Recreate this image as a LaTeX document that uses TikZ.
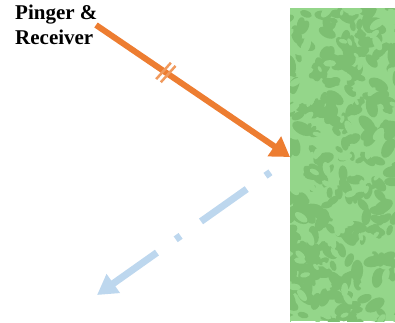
\documentclass[tikz,border=0pt]{standalone}
\usepackage{fontspec}
\setmainfont{Liberation Serif}
\usetikzlibrary{arrows.meta,calc}

\definecolor{pingorange}{HTML}{ED7D31}
\definecolor{tickorange}{HTML}{F09A5E}
\definecolor{echoblue}{HTML}{BDD7EE}
\definecolor{walllight}{HTML}{94D68A}
\definecolor{walldark}{HTML}{7DBF72}

\tikzset{
  ping/.style={pingorange, line width=6pt, -{Triangle[length=19pt,width=23pt]}},
  echo/.style={echoblue, line width=7pt, dash pattern=on 6pt off 23pt on 56pt off 25pt,
    -{Triangle[length=20pt,width=22pt]}},
  tickmark/.style={tickorange, line width=2.5pt},
  blob/.style={walldark}
}

\begin{document}
\begin{tikzpicture}[x=1pt,y=-1pt]
\useasboundingbox (0,0) rectangle (395,322);

% Wall
\begin{scope}
  \clip (290,8) rectangle (395,321);
  \fill[walllight] (290,8) rectangle (395,321);
  \pgfmathsetseed{7}
  \foreach \i in {1,...,300}{
    \pgfmathsetmacro\bx{285+115*rnd}
    \pgfmathsetmacro\by{3+323*rnd}
    \pgfmathsetmacro\ba{180*rnd}
    \pgfmathsetmacro\br{4+7*rnd}
    \fill[blob, rotate around={\ba:(\bx,\by)}] (\bx,\by) ellipse ({\br} and {0.55*\br});
  }
  \pgfmathsetseed{19}
  \foreach \i in {1,...,120}{
    \pgfmathsetmacro\bx{285+115*rnd}
    \pgfmathsetmacro\by{3+323*rnd}
    \pgfmathsetmacro\ba{180*rnd}
    \pgfmathsetmacro\br{3+5*rnd}
    \fill[walllight, rotate around={\ba:(\bx,\by)}] (\bx,\by) ellipse ({\br} and {0.5*\br});
  }
\end{scope}

% Label
\node[font=\bfseries\fontsize{21}{25}\selectfont, align=left, anchor=north west, inner sep=0pt]
  (pinger) at (15,5) {Pinger \&\\Receiver};

% Rays
\coordinate (src) at (96,25);
\coordinate (hit) at (290,157);
\coordinate (bounce) at (270.4,172.3);
\coordinate (back) at (97,295);

\draw[ping] (src) -- (hit);
\path (src) -- (hit) coordinate[pos=0.36] (tk);
\foreach \s in {-2.8,2.8}
  \draw[tickmark] ($(tk)+(\s*0.83,\s*0.56)+(132:11)$) -- ++(-48:22);

\draw[echo] (bounce) -- (back);

\end{tikzpicture}
\end{document}
